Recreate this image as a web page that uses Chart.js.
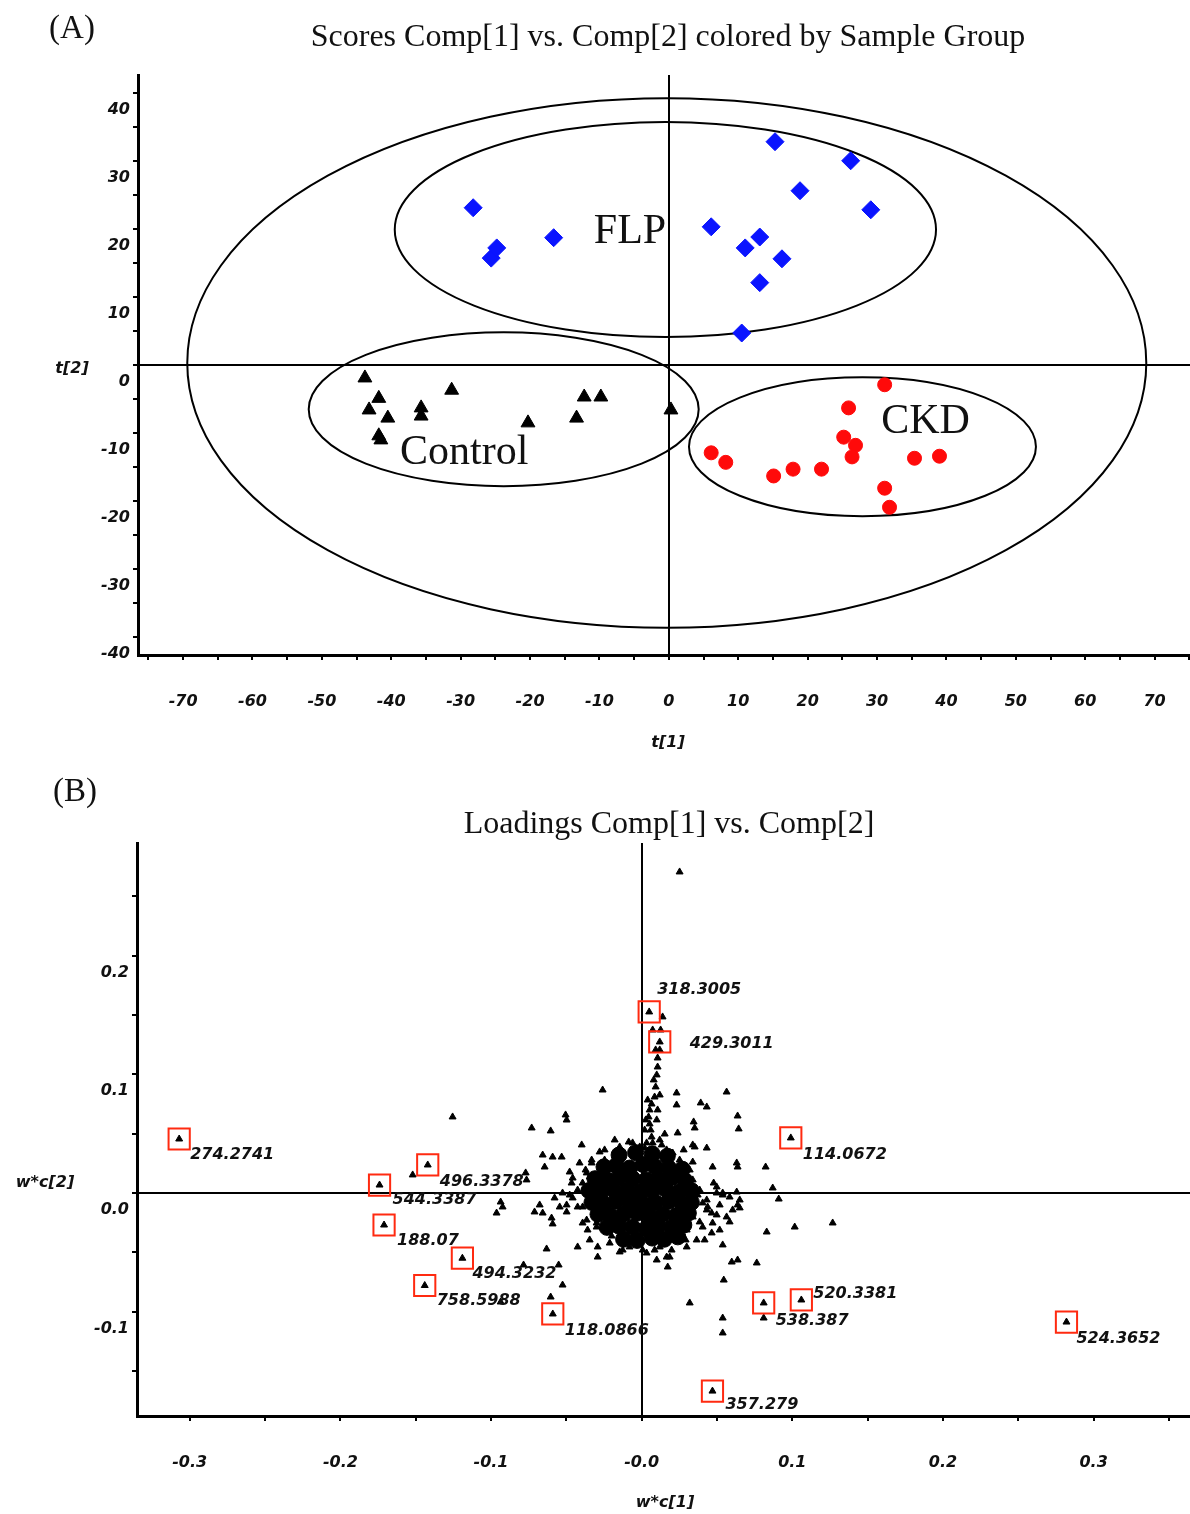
<!DOCTYPE html>
<html><head><meta charset="utf-8">
<script src="https://cdn.jsdelivr.net/npm/chart.js@4.4.0/dist/chart.umd.min.js"></script>
<style>
html,body{margin:0;padding:0;background:#fff;}
#wrap{position:relative;width:1190px;height:1514px;overflow:hidden;background:#fff;}
canvas{position:absolute;left:0;}
#cA{top:0;} #cB{top:770px;}
.t{position:absolute;white-space:nowrap;transform:translate(-50%,-50%);color:#111;line-height:1;}
.serif{font-family:"Liberation Serif","Times New Roman",serif;}
.ax{font-family:"DejaVu Sans",Verdana,sans-serif;font-weight:bold;font-style:italic;font-size:16px;}
</style></head><body>
<div id="wrap">
<canvas id="cA" width="1190" height="770"></canvas>
<canvas id="cB" width="1190" height="744"></canvas>
<div class="t serif" style="left:72px;top:27px;font-size:33px">(A)</div>
<div class="t serif" style="left:668px;top:35px;font-size:32px">Scores Comp[1] vs. Comp[2] colored by Sample Group</div>
<div class="t ax" style="left:72px;top:368px">t[2]</div>
<div class="t ax" style="left:668px;top:742px">t[1]</div>
<div class="t serif" style="left:75px;top:790px;font-size:33px">(B)</div>
<div class="t serif" style="left:669px;top:822px;font-size:32px">Loadings Comp[1] vs. Comp[2]</div>
<div class="t ax" style="left:45px;top:1182px">w*c[2]</div>
<div class="t ax" style="left:665px;top:1502px">w*c[1]</div>
</div>
<script>
// ---------- Panel A: scores ----------
const flpX = [-28.2,-25.6,-24.8,-16.6,6.1,11.0,13.1,13.1,15.3,16.3,18.9,26.2,29.1,10.5];
const flpY = [23.1,15.7,17.2,18.7,20.3,17.2,18.8,12.1,32.8,15.6,25.6,30.0,22.8,4.7];
const ctrlX = [-43.8,-41.8,-43.2,-40.5,-41.8,-41.5,-35.7,-35.7,-31.3,-20.3,-13.3,-12.2,-9.8,0.3];
const ctrlY = [-1.9,-4.9,-6.6,-7.8,-10.4,-11.0,-6.3,-7.5,-3.7,-8.5,-7.8,-4.7,-4.7,-6.6];
const ckdX = [31.1,25.9,25.2,26.9,26.4,6.1,8.2,15.1,17.9,22.0,35.4,39.0,31.1,31.8];
const ckdY = [-2.9,-6.3,-10.6,-11.8,-13.5,-12.9,-14.3,-16.3,-15.3,-15.3,-13.7,-13.4,-18.1,-20.9];
// ellipses: Hotelling T2, FLP, Control, CKD
const ellCX = [-0.3,-0.5,-23.8,27.9];
const ellCY = [0.3,19.9,-6.5,-12.0];
const ellRX = [69.1,39.0,28.1,25.0];
const ellRY = [38.9,15.8,11.3,10.2];
const groupNames = ['FLP','Control','CKD'];
const groupLabX = [-5.6,-29.5,37.0];
const groupLabY = [19.6,-12.9,-8.4];

// ---------- Panel B: loadings ----------
const coreX = [-0.015,-0.004,0.007,0.017,
  -0.025,-0.017,-0.008,0.001,0.009,0.018,0.027,
  -0.031,-0.023,-0.015,-0.006,0.003,0.011,0.020,0.029,
  -0.035,-0.027,-0.019,-0.010,-0.001,0.007,0.016,0.025,0.033,
  -0.033,-0.025,-0.017,-0.008,0.001,0.009,0.018,0.027,0.033,
  -0.029,-0.021,-0.012,-0.003,0.005,0.014,0.023,0.031,
  -0.023,-0.015,-0.006,0.003,0.011,0.020,0.028,
  -0.012,-0.003,0.007,0.015,0.024];
const coreY = [0.032,0.034,0.033,0.031,
  0.022,0.023,0.021,0.024,0.022,0.021,0.020,
  0.012,0.011,0.013,0.012,0.011,0.012,0.013,0.010,
  0.002,0.001,0.003,0.002,0.001,0.002,0.003,0.001,0.002,
  -0.008,-0.009,-0.007,-0.008,-0.009,-0.008,-0.007,-0.009,-0.008,
  -0.018,-0.019,-0.018,-0.017,-0.019,-0.018,-0.019,-0.017,
  -0.029,-0.028,-0.029,-0.030,-0.028,-0.029,-0.027,
  -0.039,-0.040,-0.038,-0.039,-0.037];
const loadX = [-0.1255,-0.152,-0.073,-0.0604,-0.0505,-0.0498,-0.0259,-0.0657,-0.0591,-0.0531,
  -0.0644,-0.0398,-0.0179,-0.0086,-0.077,-0.0936,-0.0963,-0.0657,-0.0598,-0.0591,
  -0.0631,-0.0425,-0.0292,-0.0292,-0.0212,-0.0525,-0.0604,-0.0784,-0.0551,-0.0936,
  -0.0412,-0.0458,-0.0465,-0.0458,-0.0498,-0.0498,-0.0279,-0.0764,-0.0923,
  0.0252,0.0139,0.0073,0.0126,0.0106,0.0106,0.0100,0.0093,0.0086,0.0066,0.0053,
  0.0046,0.0053,0.0060,0.0066,0.0073,0.0093,0.0033,0.0232,0.0232,0.0564,
  0.0392,0.0432,0.0637,0.0644,0.0345,0.0352,0.0153,0.0239,0.0339,0.0432,
  0.0471,0.0637,0.0823,0.0870,0.0910,0.0478,0.0498,0.0538,0.0584,0.0651,
  0.0651,0.0584,0.0465,0.0405,0.0465,0.0538,0.0830,0.1016,0.1268,0.0206,
  0.0352,0.0339,0.0631,0.0631,0.0432,0.0518,0.0637,0.0498,0.0385,0.0365,
  0.0186,0.0199,0.0186,0.0173,0.0066,-0.0060,-0.0046,0.0637,0.0764,0.0598,
  0.0545,0.0319,0.0538,0.0538,0.0810,0.0239,-0.0060,0.0133,0.0339,0.0372,
  0.0405,0.0438,-0.0146,-0.0359,-0.0345,
  -0.0478,-0.0425,-0.0392,-0.0299,-0.0372,-0.0332,-0.0246,0.0020,0.0279,0.0292,0.0086,-0.0199,
  -0.0478,-0.0365,-0.0332,-0.0246,-0.0166,-0.0146,-0.0013,0.0166,0.0252,0.0319,
  0.0339,0.0385,0.0352,0.0339,0.0299,0.0232,0.0120,0.0073,0.0007,-0.0080,
  -0.0146,-0.0212,-0.0299,-0.0365,-0.0392,-0.0425,-0.0392,-0.0345,-0.0544,-0.0578,
  -0.0525,-0.0677,-0.0711,0.0498,0.0538,0.0432,0.0564,0.0604,0.0471,0.0518,
  0.0418,0.0299,0.0166,0.0033,0.0100,-0.0126,
  0.0120,0.0080,0.0120,0.0040,0.0100,0.0020,0.0120,0.0027,0.0106];
const loadY = [0.0641,0.0152,0.0548,0.0523,0.0658,0.0615,0.0868,0.0320,0.0303,0.0303,
  0.0219,0.0405,0.0447,0.0430,0.0169,-0.0076,-0.0169,-0.0169,-0.0211,-0.0261,
  -0.0472,-0.0455,-0.0540,-0.0455,-0.0422,-0.0776,-0.0877,-0.0607,-0.0607,-0.0919,
  0.0253,0.0126,0.0084,-0.0042,-0.0101,-0.0160,0.0346,0.0110,-0.0118,
  0.2706,0.1484,0.1374,0.1374,0.1138,0.1062,0.0995,0.0894,0.0809,0.0750,0.0700,
  0.0641,0.0582,0.0531,0.0472,0.0422,0.1206,0.0422,0.0843,0.0742,0.0851,
  0.0759,0.0725,0.0649,0.0540,0.0599,0.0548,0.0497,0.0506,0.0405,0.0379,
  0.0219,0.0219,0.0219,0.0042,-0.0051,0.0084,0.0000,-0.0017,-0.0034,-0.0059,
  -0.0126,-0.0244,-0.0169,-0.0287,-0.0337,-0.0438,-0.0329,-0.0287,-0.0253,0.0337,
  0.0388,0.0261,0.0253,0.0008,-0.0059,-0.0101,-0.0101,-0.0185,-0.0244,-0.0396,
  -0.0396,-0.0481,-0.0540,-0.0624,-0.0312,-0.0371,-0.0413,-0.0565,-0.0590,-0.0582,
  -0.0734,-0.0927,-0.1054,-0.1180,-0.1054,-0.0270,0.0422,0.0405,0.0051,-0.0017,
  -0.0084,-0.0118,-0.0497,-0.0312,-0.0396,
  -0.0017,-0.0118,-0.0253,-0.0287,0.0194,0.0278,0.0363,0.0380,0.0363,-0.0396,-0.0481,-0.0363,
  0.0177,0.0169,0.0253,0.0278,0.0337,0.0388,0.0388,0.0363,0.0278,0.0194,
  0.0110,0.0025,-0.0084,-0.0202,-0.0312,-0.0396,-0.0455,-0.0396,-0.0481,-0.0455,
  -0.0396,-0.0312,-0.0253,-0.0228,-0.0118,0.0025,0.0084,0.0135,-0.0118,-0.0042,
  0.0000,-0.0101,-0.0160,0.0051,0.0000,-0.0143,-0.0202,-0.0143,-0.0253,-0.0312,
  -0.0396,-0.0455,-0.0540,-0.0506,-0.0565,-0.0481,
  0.1206,0.0953,0.0826,0.0784,0.0616,0.0531,0.0447,0.0616,0.0700];
const markedNames = ['274.2741','496.3378','544.3387','188.07','494.3232','758.5988','118.0866',
  '318.3005','429.3011','114.0672','520.3381','538.387','524.3652','357.279'];
const markedX = [-0.307,-0.142,-0.174,-0.171,-0.119,-0.144,-0.059,0.005,0.012,0.099,0.106,0.081,0.282,0.047];
const markedY = [0.0455,0.0236,0.0067,-0.027,-0.055,-0.078,-0.102,0.1526,0.1273,0.0464,-0.0902,-0.0927,-0.1088,-0.167];
// label placement (pixels from the point)
const labDX = [11,12,13,13,10,12,12,8,30,12,12,12,10,13];
const labDY = [16,17,15,16,16,15,17,-22,2,17,-6,18,17,14];

const pts = (xs, ys) => xs.map((x, i) => ({x, y: ys[i]}));
const tickFont = {family: '"DejaVu Sans", Verdana, sans-serif', size: 16, weight: 'bold', style: 'italic'};
const zeroGrid = c => (c.tick && Math.abs(c.tick.value) < 1e-9) ? '#000' : 'rgba(0,0,0,0)';

const scoresPlugin = {
  id: 'scoresDeco',
  beforeDatasetsDraw(chart) {
    const {ctx, scales: {x, y}} = chart;
    ctx.save();
    ctx.strokeStyle = '#000';
    ctx.lineWidth = 2;
    for (let i = 0; i < ellCX.length; i++) {
      const cx = x.getPixelForValue(ellCX[i]), cy = y.getPixelForValue(ellCY[i]);
      const rx = Math.abs(x.getPixelForValue(ellCX[i] + ellRX[i]) - cx);
      const ry = Math.abs(y.getPixelForValue(ellCY[i] + ellRY[i]) - cy);
      ctx.beginPath();
      ctx.ellipse(cx, cy, rx, ry, 0, 0, Math.PI * 2);
      ctx.stroke();
    }
    ctx.restore();
  },
  afterDatasetsDraw(chart) {
    const {ctx, scales: {x, y}} = chart;
    ctx.save();
    ctx.fillStyle = '#111';
    ctx.font = '42px "Liberation Serif", "Times New Roman", serif';
    ctx.textAlign = 'center';
    ctx.textBaseline = 'middle';
    groupNames.forEach((n, i) => ctx.fillText(n, x.getPixelForValue(groupLabX[i]), y.getPixelForValue(groupLabY[i])));
    ctx.restore();
  }
};

const loadPlugin = {
  id: 'loadDeco',
  afterDatasetsDraw(chart) {
    const {ctx, scales: {x, y}} = chart;
    ctx.save();
    ctx.fillStyle = '#111';
    ctx.font = 'italic bold 16px "DejaVu Sans", Verdana, sans-serif';
    ctx.textAlign = 'left';
    ctx.textBaseline = 'middle';
    markedNames.forEach((n, i) => {
      ctx.fillText(n, x.getPixelForValue(markedX[i]) + labDX[i], y.getPixelForValue(markedY[i]) + labDY[i]);
    });
    ctx.restore();
  }
};

function axisOpts(min, max, step, cb, isX, extra) {
  return Object.assign({
    type: 'linear', min, max,
    ticks: {stepSize: step, maxTicksLimit: 1000, autoSkip: false, includeBounds: false, maxRotation: 0,
      color: '#111', font: tickFont, callback: cb, padding: isX ? 32 : 3, labelOffset: isX ? 0 : 17},
    grid: {drawOnChartArea: true, color: zeroGrid, lineWidth: 2, drawTicks: true, tickLength: 5, tickColor: '#000', tickWidth: 2},
    border: {display: true, color: '#000', width: 3}
  }, extra);
}

const cbA = v => Math.abs(v % 10) < 1e-6 ? String(Math.round(v)) : '';
const cbBx = v => { const k = Math.round(v / 0.05); if (k % 2 !== 0) return ''; return k === 0 ? '-0.0' : (k * 0.05).toFixed(1); };
const cbBy = v => { const k = Math.round(v / 0.05); if (k % 2 !== 0) return ''; return k === 0 ? '0.0' : (k * 0.05).toFixed(1); };

new Chart(document.getElementById('cA'), {
  type: 'scatter',
  data: {datasets: [
    {data: pts(flpX, flpY), pointStyle: 'rectRot', pointRadius: 9, backgroundColor: '#0a14ff', borderColor: '#0a14ff', borderWidth: 1},
    {data: pts(ctrlX, ctrlY), pointStyle: 'triangle', pointRadius: 8, backgroundColor: '#000', borderColor: '#000', borderWidth: 1},
    {data: pts(ckdX, ckdY), pointStyle: 'circle', pointRadius: 7, backgroundColor: '#ff0a0a', borderColor: '#ff0a0a', borderWidth: 1}
  ]},
  options: {
    responsive: false, animation: false, devicePixelRatio: 1,
    layout: {autoPadding: false, padding: {top: 75, left: 0, right: 0, bottom: 0}},
    plugins: {legend: {display: false}, tooltip: {enabled: false}},
    scales: {
      x: axisOpts(-76.5, 75.1, 5, cbA, true, {afterFit: s => { s.height = 115; s.paddingLeft = 0; s.paddingRight = 0; }}),
      y: axisOpts(-42.6, 42.6, 5, cbA, false, {afterFit: s => { s.width = 138; s.paddingTop = 0; s.paddingBottom = 0; }})
    }
  },
  plugins: [scoresPlugin]
});

new Chart(document.getElementById('cB'), {
  type: 'scatter',
  data: {datasets: [
    {data: pts(markedX, markedY), pointStyle: 'rect', pointRadius: 15, backgroundColor: 'rgba(0,0,0,0)', borderColor: '#ff2a10', borderWidth: 2},
    {data: pts(markedX, markedY), pointStyle: 'triangle', pointRadius: 4, backgroundColor: '#000', borderColor: '#000', borderWidth: 1},
    {data: pts(loadX, loadY), pointStyle: 'triangle', pointRadius: 4, backgroundColor: '#000', borderColor: '#000', borderWidth: 1},
    {data: pts(coreX, coreY), pointStyle: 'circle', pointRadius: 8, backgroundColor: '#000', borderColor: '#000', borderWidth: 1}
  ]},
  options: {
    responsive: false, animation: false, devicePixelRatio: 1,
    layout: {autoPadding: false, padding: {top: 73, left: 0, right: 0, bottom: 0}},
    plugins: {legend: {display: false}, tooltip: {enabled: false}},
    scales: {
      x: axisOpts(-0.335, 0.364, 0.05, cbBx, true, {afterFit: s => { s.height = 98; s.paddingLeft = 0; s.paddingRight = 0; }}),
      y: axisOpts(-0.188, 0.295, 0.05, cbBy, false, {afterFit: s => { s.width = 137; s.paddingTop = 0; s.paddingBottom = 0; }})
    }
  },
  plugins: [loadPlugin]
});
</script>
</body></html>
